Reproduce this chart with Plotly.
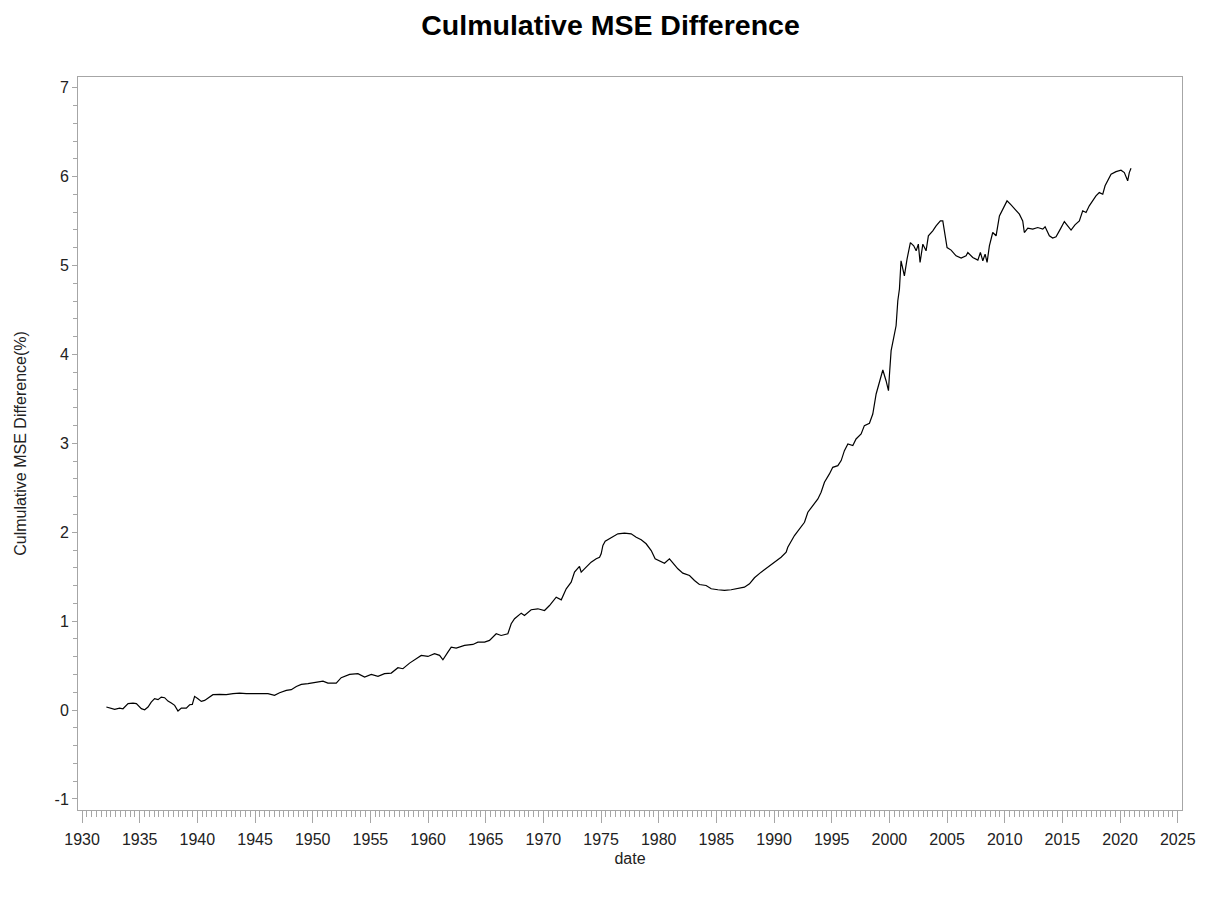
import plotly.graph_objects as go

# Decimal years
dates = [
    1932.11, 1932.54, 1932.83, 1933.26, 1933.55, 1933.99, 1934.42, 1934.71, 1935.14, 1935.43,
    1935.72, 1936.00, 1936.29, 1936.59, 1936.87, 1937.16, 1937.45, 1937.74, 1938.03, 1938.32,
    1938.61, 1939.04, 1939.33, 1939.56, 1939.76, 1940.05, 1940.34, 1940.63, 1940.92, 1941.35,
    1941.93, 1942.51, 1943.09, 1943.66, 1944.24, 1945.11, 1946.12, 1946.69, 1947.13, 1947.71,
    1948.14, 1948.58, 1949.01, 1949.59, 1950.31, 1950.89, 1951.32, 1952.04,
    1952.47, 1953.20, 1953.92, 1954.50, 1955.08, 1955.66, 1956.23, 1956.81, 1957.39, 1957.82,
    1958.40, 1958.98, 1959.41, 1959.99, 1960.56, 1961.00, 1961.29, 1961.72, 1962.01, 1962.44,
    1963.16, 1963.89, 1964.32, 1964.90, 1965.33, 1965.91, 1966.34, 1966.92, 1967.21, 1967.50,
    1968.08, 1968.36, 1968.94, 1969.52, 1970.10, 1970.53, 1971.11, 1971.55, 1971.98, 1972.41,
    1972.70, 1973.13, 1973.28,
    1973.71, 1974.14, 1974.58, 1974.87, 1975.01, 1975.16, 1975.36, 1975.88, 1976.46, 1977.03,
    1977.61, 1978.05, 1978.48, 1978.91, 1979.35, 1979.69, 1980.07, 1980.50, 1980.93, 1981.23,
    1981.66, 1982.09, 1982.67, 1983.10, 1983.53, 1984.11, 1984.55, 1985.13, 1985.70, 1986.28,
    1986.86, 1987.43, 1987.87, 1988.30, 1988.88, 1989.46, 1990.03, 1990.61, 1991.05,
    1991.19, 1991.77, 1992.20, 1992.64, 1992.93, 1993.36, 1993.80, 1994.08, 1994.37, 1994.80,
    1995.09, 1995.53, 1995.82, 1996.10, 1996.40, 1996.83, 1997.11, 1997.55, 1997.83, 1998.27,
    1998.56, 1998.85, 1999.13, 1999.43, 1999.71, 1999.92, 2000.00, 2000.15, 2000.38, 2000.58,
    2000.73, 2000.87,
    2001.01, 2001.30, 2001.53, 2001.82, 2002.11, 2002.32, 2002.51, 2002.66, 2002.90, 2003.18,
    2003.38, 2003.76, 2004.05, 2004.42, 2004.63, 2004.77, 2005.00, 2005.35, 2005.78, 2006.22,
    2006.65, 2006.80, 2007.23, 2007.67, 2007.89, 2008.10, 2008.30, 2008.47, 2008.67, 2008.96,
    2009.25, 2009.54, 2009.83, 2010.20, 2010.55, 2010.98, 2011.27, 2011.56, 2011.70, 2012.00,
    2012.43, 2012.86, 2013.30, 2013.50, 2013.87, 2014.16, 2014.45, 2014.82, 2015.17, 2015.46,
    2015.75, 2016.09, 2016.47, 2016.76, 2017.05, 2017.33, 2017.63, 2017.91, 2018.20, 2018.50,
    2018.70, 2018.93, 2019.22, 2019.65, 2020.08, 2020.37, 2020.66, 2020.80, 2020.95,
]

# Cumulative MSE difference (%)
mse_diff = [
    0.034, 0.015, 0.008, 0.022, 0.015, 0.072, 0.079, 0.072, 0.016, 0.004,
    0.034, 0.090, 0.128, 0.117, 0.146, 0.139, 0.101, 0.079, 0.053, -0.011,
    0.022, 0.022, 0.060, 0.064, 0.154, 0.128, 0.098, 0.109, 0.139, 0.173,
    0.176, 0.173, 0.184, 0.191, 0.184, 0.184, 0.184, 0.165, 0.195, 0.221,
    0.229, 0.266, 0.289, 0.297, 0.315, 0.326, 0.303, 0.303,
    0.364, 0.401, 0.409, 0.371, 0.401, 0.379, 0.409, 0.416, 0.476, 0.465,
    0.528, 0.578, 0.615, 0.603, 0.634, 0.615, 0.566, 0.652, 0.708, 0.697,
    0.727, 0.738, 0.764, 0.764, 0.783, 0.858, 0.839, 0.858, 0.971, 1.027,
    1.090, 1.064, 1.128, 1.139, 1.120, 1.176, 1.270, 1.240, 1.364, 1.438,
    1.551, 1.615, 1.551,
    1.607, 1.663, 1.701, 1.719, 1.757, 1.851, 1.899, 1.937, 1.982, 1.989,
    1.982, 1.944, 1.915, 1.870, 1.794, 1.701, 1.682, 1.652, 1.701, 1.652,
    1.589, 1.540, 1.513, 1.457, 1.412, 1.401, 1.364, 1.353, 1.345, 1.353,
    1.364, 1.382, 1.420, 1.488, 1.551, 1.607, 1.663, 1.719, 1.775,
    1.831, 1.963, 2.038, 2.112, 2.225, 2.300, 2.375, 2.450, 2.562, 2.656,
    2.730, 2.749, 2.806, 2.918, 2.993, 2.974, 3.049, 3.105, 3.199, 3.225,
    3.330, 3.555, 3.685, 3.825, 3.704, 3.592, 3.761, 4.042, 4.191, 4.322,
    4.603, 4.735,
    5.053, 4.884, 5.072, 5.258, 5.221, 5.165, 5.240, 5.034, 5.240, 5.165,
    5.334, 5.390, 5.446, 5.502, 5.502, 5.390, 5.202, 5.173, 5.109, 5.083,
    5.109, 5.146, 5.090, 5.061, 5.146, 5.053, 5.128, 5.034, 5.221, 5.371,
    5.334, 5.558, 5.634, 5.727, 5.682, 5.615, 5.577, 5.502, 5.371, 5.420,
    5.409, 5.427, 5.409, 5.435, 5.334, 5.308, 5.322, 5.409, 5.494, 5.446,
    5.398, 5.457, 5.502, 5.615, 5.596, 5.671, 5.727, 5.783, 5.820, 5.802,
    5.896, 5.960, 6.027, 6.056, 6.072, 6.045, 5.952, 6.045, 6.094,
]

x_tick_vals = list(range(1930, 2030, 5))
x_tick_text = [str(v) for v in x_tick_vals]
y_tick_vals = [-1, 0, 1, 2, 3, 4, 5, 6, 7]
y_tick_text = ["-1", "0", "1", "2", "3", "4", "5", "6", "7"]

FONT = "Liberation Sans, Arial, sans-serif"
AXIS_COLOR = "#a6a6a6"
TEXT_COLOR = "#222222"

fig = go.Figure()
fig.add_trace(go.Scatter(
    x=dates, y=mse_diff, mode="lines",
    line=dict(color="black", width=1.2),
    showlegend=False,
))

fig.update_layout(
    width=1205, height=898,
    margin=dict(l=70, r=31, t=69, b=96),
    paper_bgcolor="white", plot_bgcolor="white",
    font=dict(family=FONT, size=16, color=TEXT_COLOR),
    title=dict(
        text="<b>Culmulative MSE Difference</b>",
        x=0.5, xanchor="center", xref="container",
        y=1 - 17 / 898, yanchor="middle", yref="container",
        font=dict(family=FONT, size=28.5, color="black"),
    ),
    xaxis=dict(
        range=[1929.65, 2025.37],
        tickmode="array", tickvals=x_tick_vals, ticktext=x_tick_text,
        showgrid=False, zeroline=False,
        showline=True, linecolor=AXIS_COLOR, linewidth=1, mirror=True,
        ticks="outside", ticklen=12, tickcolor=AXIS_COLOR, tickwidth=1,
        ticklabelstandoff=3,
        minor=dict(dtick=5 / 12, tick0=1930, ticks="outside", ticklen=6,
                   tickcolor=AXIS_COLOR, tickwidth=1, showgrid=False),
        tickfont=dict(size=16, color=TEXT_COLOR),
        title=dict(text="date", standoff=5, font=dict(size=16, color=TEXT_COLOR)),
    ),
    yaxis=dict(
        range=[-1.124, 7.12],
        tickmode="array", tickvals=y_tick_vals, ticktext=y_tick_text,
        showgrid=False, zeroline=False,
        showline=True, linecolor=AXIS_COLOR, linewidth=1, mirror=True,
        ticks="outside", ticklen=5, tickcolor=AXIS_COLOR, tickwidth=1,
        minor=dict(dtick=0.2, tick0=0, ticks="outside", ticklen=4,
                   tickcolor=AXIS_COLOR, tickwidth=1, showgrid=False),
        tickfont=dict(size=16, color=TEXT_COLOR),
        title=dict(text="Culmulative MSE Difference(%)", standoff=23,
                   font=dict(size=16, color=TEXT_COLOR)),
    ),
)

fig.write_html("out.html")
